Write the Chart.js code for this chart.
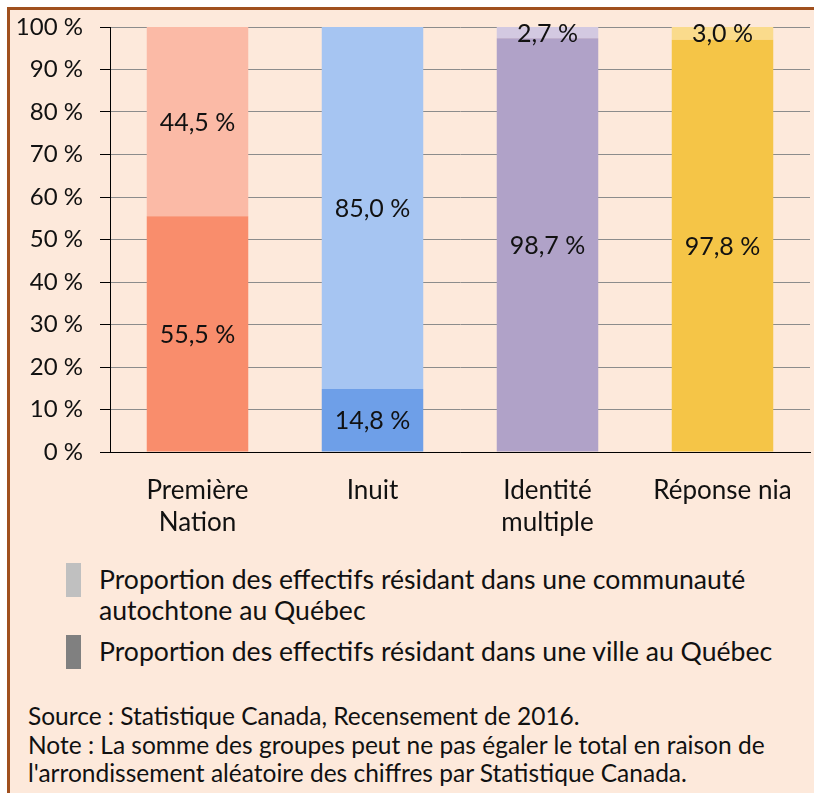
<!DOCTYPE html>
<html>
<head>
<meta charset="utf-8">
<script src="https://cdn.jsdelivr.net/npm/chart.js@4/dist/chart.umd.min.js"></script>
<style>
  html, body { margin: 0; padding: 0; background: #ffffff; width: 814px; height: 793px; overflow: hidden; }
  #frame { position: absolute; left: 7px; top: 7px; width: 900px; height: 900px;
           border-left: 3px solid #A0501E; border-top: 3px solid #A0501E; background: #FDE9DB; }
  #chartwrap { position: absolute; left: 0; top: 0; width: 814px; height: 560px; }
  .txt { position: absolute; font-family: Lato, "Open Sans", sans-serif; color: #111; white-space: nowrap; }
  .leg { font-size: 26.6px; line-height: 31px; left: 99px; }
  .box { position: absolute; left: 66px; width: 15px; height: 34px; }
  .note { font-size: 24.5px; line-height: 28px; left: 28px; }
</style>
</head>
<body>
<div id="frame"></div>
<div id="chartwrap"><canvas id="c" width="814" height="560"></canvas></div>

<div class="box" style="top:563px;background:#C0C0C0"></div>
<div class="txt leg" id="leg1" style="top:564px"></div>
<div class="box" style="top:635px;background:#808080"></div>
<div class="txt leg" id="leg2" style="top:636px"></div>

<div class="txt note" style="top:702px">Source : Statistique Canada, Recensement de 2016.</div>
<div class="txt note" style="top:731px">Note : La somme des groupes peut ne pas égaler le total en raison de<br>l'arrondissement aléatoire des chiffres par Statistique Canada.</div>

<script>
// ---- Data ----
const categories = [["Première", "Nation"], "Inuit", ["Identité", "multiple"], "Réponse nia"];
const seriesNames = [
  "Proportion des effectifs résidant dans une communauté autochtone au Québec",
  "Proportion des effectifs résidant dans une ville au Québec"
];
const communaute = [44.5, 85.0, 2.7, 3.0];
const ville = [55.5, 14.8, 98.7, 97.8];
const yTicks = [0, 10, 20, 30, 40, 50, 60, 70, 80, 90, 100];

// colours per category (dark = ville, light = communauté)
const villeColors = ["#F98D6C", "#6E9FE8", "#B0A2C8", "#F5C547"];
const commColors  = ["#FBBAA6", "#A6C5F2", "#D3C9E1", "#FADB8C"];

// legend text
document.getElementById('leg1').innerHTML = "Proportion des effectifs résidant dans une communauté<br>autochtone au Québec";
document.getElementById('leg2').textContent = seriesNames[1];

// 100 % stacked: shares of each group's total
const totals = ville.map((v, i) => v + communaute[i]);
const villeShare = ville.map((v, i) => v / totals[i] * 100);
const commShare = communaute.map((v, i) => v / totals[i] * 100);

const fmt = v => v.toFixed(1).replace('.', ',') + ' %';

const labelPlugin = {
  id: 'segLabels',
  afterDatasetsDraw(chart) {
    const ctx = chart.ctx;
    ctx.save();
    ctx.font = '25px Lato, "Open Sans", sans-serif';
    ctx.fillStyle = '#111';
    ctx.textAlign = 'center';
    ctx.textBaseline = 'middle';
    chart.data.datasets.forEach((ds, di) => {
      const meta = chart.getDatasetMeta(di);
      meta.data.forEach((el, i) => {
        const raw = ds.rawValues[i];
        ctx.fillText(fmt(raw), el.x, (el.y + el.base) / 2 + 1);
      });
    });
    ctx.restore();
  }
};

new Chart(document.getElementById('c'), {
  type: 'bar',
  data: {
    labels: categories,
    datasets: [
      { label: seriesNames[1], data: villeShare, rawValues: ville, backgroundColor: villeColors,
        categoryPercentage: 1, barPercentage: 0.58 },
      { label: seriesNames[0], data: commShare, rawValues: communaute, backgroundColor: commColors,
        categoryPercentage: 1, barPercentage: 0.58 }
    ]
  },
  options: {
    responsive: false,
    animation: false,
    devicePixelRatio: 1,
    layout: { padding: { top: 27, right: 4, left: 0, bottom: 0 } },
    plugins: { legend: { display: false }, tooltip: { enabled: false } },
    scales: {
      x: {
        stacked: true,
        grid: { display: false, drawTicks: false },
        border: { color: '#000', width: 1 },
        ticks: { color: '#111', padding: 22, font: { family: 'Lato', size: 26, lineHeight: 1.25 }, maxRotation: 0, autoSkip: false },
        afterFit(scale) { scale.height = 560 - 452; scale.paddingLeft = 0; scale.paddingRight = 0; }
      },
      y: {
        stacked: true,
        min: 0, max: 100,
        afterBuildTicks(scale) { scale.ticks = yTicks.map(v => ({ value: v })); },
        grid: { color: '#8C8C8C', tickColor: '#000', tickLength: 10, lineWidth: 1 },
        border: { color: '#000', width: 1 },
        ticks: { color: '#111', padding: 17, font: { family: 'Lato', size: 24 }, callback: v => v + ' %' },
        afterFit(scale) { scale.width = 110; scale.paddingTop = 0; scale.paddingBottom = 0; }
      }
    }
  },
  plugins: [labelPlugin]
});
</script>
</body>
</html>
